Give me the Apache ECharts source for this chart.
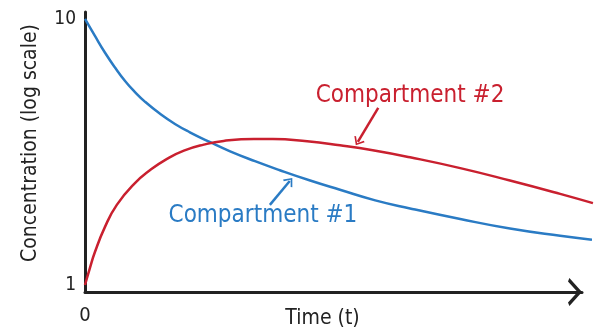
<!DOCTYPE html>
<html>
<head>
<meta charset="utf-8">
<script src="https://cdn.jsdelivr.net/npm/echarts@6/dist/echarts.min.js"></script>
<style>
  html, body { margin: 0; padding: 0; background: #fff; }
  #chart { width: 598px; height: 330px; }
</style>
</head>
<body>
<div id="chart"></div>
<script>
// Two-compartment model: concentration over time on a log scale
const compartment1 = [
  [0, 10.0], [2.0, 8.63], [4.0, 7.48], [6.0, 6.58], [8.1, 5.83], [10.1, 5.30],
  [12.1, 4.88], [15.1, 4.40], [18.1, 4.03], [21.1, 3.75], [25.2, 3.44], [29.2, 3.18],
  [34.2, 2.92], [39.2, 2.70], [45.3, 2.47], [51.3, 2.28], [58.4, 2.08], [65.4, 1.94],
  [75.5, 1.77], [85.5, 1.63], [95.6, 1.53], [102.0, 1.48]
];
const compartment2 = [
  [0, 1.0], [1.0, 1.16], [2.0, 1.33], [4.0, 1.65], [6.4, 2.00], [9.9, 2.40],
  [13.3, 2.72], [16.5, 2.98], [19.9, 3.20], [23.9, 3.37], [27.9, 3.48], [34.0, 3.54],
  [37.8, 3.54], [44.7, 3.47], [51.3, 3.35], [57.9, 3.21], [65.4, 3.02], [75.5, 2.75],
  [85.5, 2.47], [95.6, 2.20], [102.2, 2.03]
];
const xTickLabels = ['0'];
const yTickLabels = ['1', '10'];
const seriesNames = ['Compartment #1', 'Compartment #2'];
const axisNames = ['Time (t)', 'Concentration (log scale)'];

// Callout positions (time, concentration) for the series labels and their arrows
const label1At = [35.8, 1.82];
const label2At = [65.4, 5.13];
const arrow1 = [[37.2, 2.0], [41.2, 2.46]];
const arrow2 = [[59.0, 4.63], [54.9, 3.45]];

const FONT = '"DejaVu Sans Condensed", "Liberation Sans Narrow", sans-serif';
const INK = '#222';
const RED = '#c9202f';
const BLUE = '#2a7bc4';
// Open chevron head, tip pointing along the line direction
const CHEVRON = 'path://M10,0 L20,9 L17.5,10 L10,3.2 L2.5,10 L0,9 Z';

// Shared log range for the concentration axis
const Y_MIN = 0.941;
const Y_MAX = 10.62;
// The axis arrow stops at t = 100; the curves run on a little past it
const X_AXIS_MAX = 100;
const X_CURVE_MAX = 102.4;
const LEFT = 85, TOP = 12, BOTTOM = 38, PLOT_W = 497;

const chart = echarts.init(document.getElementById('chart'), null, { renderer: 'canvas' });

chart.setOption({
  animation: false,
  backgroundColor: '#fff',
  grid: [
    // drawn axes
    { left: LEFT, top: TOP, bottom: BOTTOM, width: PLOT_W, outerBoundsMode: 'none' },
    // curve area (same scale, slightly wider to the right)
    { left: LEFT, top: TOP, bottom: BOTTOM, width: PLOT_W * X_CURVE_MAX / X_AXIS_MAX, outerBoundsMode: 'none' }
  ],
  xAxis: [
    {
      gridIndex: 0,
      type: 'value',
      min: 0,
      max: X_AXIS_MAX,
      interval: 100,
      name: axisNames[0],
      nameLocation: 'middle',
      nameGap: 16,
      nameMoveOverlap: false,
      nameTextStyle: { fontFamily: FONT, fontSize: 21, color: INK, padding: [0, 22, 0, 0], verticalAlign: 'top' },
      axisLine: {
        show: true,
        lineStyle: { color: INK, width: 3 },
        symbol: ['none', CHEVRON],
        symbolSize: [28, 15],
        symbolOffset: [0, -7]
      },
      axisTick: { show: false },
      splitLine: { show: false },
      axisLabel: {
        showMaxLabel: false,
        margin: 14,
        fontFamily: FONT, fontSize: 20, color: INK,
        formatter: v => (v === 0 ? xTickLabels[0] : '')
      }
    },
    {
      gridIndex: 1,
      type: 'value',
      min: 0,
      max: X_CURVE_MAX,
      show: false
    }
  ],
  yAxis: [
    {
      gridIndex: 0,
      type: 'log',
      logBase: 10,
      min: Y_MIN,
      max: Y_MAX,
      name: axisNames[1],
      nameLocation: 'middle',
      nameRotate: 90,
      nameGap: 44,
      nameTextStyle: { fontFamily: FONT, fontSize: 21, color: INK, padding: [0, 0, 0, 18] },
      axisLine: { show: true, lineStyle: { color: INK, width: 3 } },
      axisTick: { show: false },
      splitLine: { show: false },
      axisLabel: {
        showMinLabel: false,
        showMaxLabel: false,
        margin: 9,
        fontFamily: FONT, fontSize: 19, color: INK,
        formatter: v => (Math.abs(v - 1) < 1e-6 ? yTickLabels[0] : Math.abs(v - 10) < 1e-6 ? yTickLabels[1] : '')
      }
    },
    {
      gridIndex: 1,
      type: 'log',
      logBase: 10,
      min: Y_MIN,
      max: Y_MAX,
      show: false
    }
  ],
  series: [
    {
      name: seriesNames[0],
      type: 'line',
      xAxisIndex: 1,
      yAxisIndex: 1,
      data: compartment1,
      smooth: 0.5,
      showSymbol: false,
      lineStyle: { color: BLUE, width: 2.5 },
      itemStyle: { color: BLUE },
      markLine: {
        silent: true,
        symbol: ['none', CHEVRON],
        symbolSize: [12, 8],
        lineStyle: { color: BLUE, width: 2.5, type: 'solid' },
        label: { show: false },
        data: [[{ coord: arrow1[0] }, { coord: arrow1[1] }]]
      },
      markPoint: {
        silent: true,
        symbol: 'circle',
        symbolSize: 1,
        itemStyle: { color: 'rgba(0,0,0,0)' },
        label: { show: true, position: 'inside', formatter: seriesNames[0], fontFamily: FONT, fontSize: 24, color: BLUE },
        data: [{ coord: label1At }]
      }
    },
    {
      name: seriesNames[1],
      type: 'line',
      xAxisIndex: 1,
      yAxisIndex: 1,
      data: compartment2,
      smooth: 0.5,
      showSymbol: false,
      lineStyle: { color: RED, width: 2.5 },
      itemStyle: { color: RED },
      markLine: {
        silent: true,
        symbol: ['none', CHEVRON],
        symbolSize: [12, 8],
        lineStyle: { color: RED, width: 2.5, type: 'solid' },
        label: { show: false },
        data: [[{ coord: arrow2[0] }, { coord: arrow2[1] }]]
      },
      markPoint: {
        silent: true,
        symbol: 'circle',
        symbolSize: 1,
        itemStyle: { color: 'rgba(0,0,0,0)' },
        label: { show: true, position: 'inside', formatter: seriesNames[1], fontFamily: FONT, fontSize: 24, color: RED },
        data: [{ coord: label2At }]
      }
    }
  ]
});
</script>
</body>
</html>
